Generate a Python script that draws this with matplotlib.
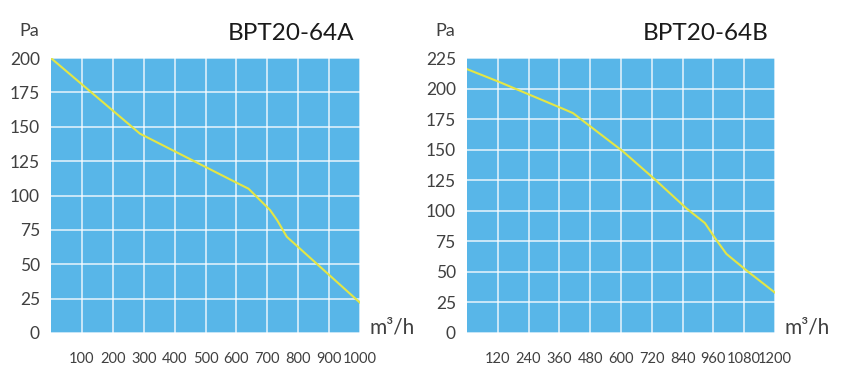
import matplotlib
matplotlib.use("Agg")
import matplotlib.pyplot as plt

plt.rcParams['font.family'] = ['Lato', 'DejaVu Sans']

# BPT20-64A curve
a_flow = [0, 288, 606, 639, 709, 732, 763, 1000]
a_pres = [200, 145, 108.7, 105, 89.4, 82, 70, 22]
a_xticks = [100, 200, 300, 400, 500, 600, 700, 800, 900, 1000]
a_yticks = [0, 25, 50, 75, 100, 125, 150, 175, 200]

# BPT20-64B curve
b_flow = [0, 120, 380, 413, 608, 728, 855, 927, 972, 1011, 1089, 1200]
b_pres = [216, 206, 183, 180, 148.6, 126.5, 102, 90, 76, 64.7, 51.2, 33]
b_xticks = [120, 240, 360, 480, 600, 720, 840, 960, 1080, 1200]
b_yticks = [0, 25, 50, 75, 100, 125, 150, 175, 200, 225]

bg = '#58b6e8'
line_col = '#e4e645'
txt = '#404040'

fig = plt.figure(figsize=(8.42, 3.76), dpi=100)

def panel(rect, xs, ys, xticks, yticks, xmax, ymax, title):
    ax = fig.add_axes(rect)
    ax.set_facecolor(bg)
    ax.plot(xs, ys, color=line_col, lw=1.5, solid_joinstyle='round')
    ax.set_xlim(0, xmax)
    ax.set_ylim(0, ymax)
    ax.set_xticks(xticks)
    ax.set_yticks(yticks)
    ax.grid(True, color='white', lw=1.1, alpha=0.85)
    ax.set_axisbelow(True)
    for s in ax.spines.values():
        s.set_visible(False)
    ax.tick_params(axis='both', length=0, colors=txt)
    ax.tick_params(axis='y', labelsize=12.5, pad=8)
    ax.tick_params(axis='x', labelsize=10.5, pad=14)
    ax.text(-0.07, 1.1, 'Pa', transform=ax.transAxes, fontsize=13,
            color=txt, ha='center', va='center')
    ax.text(0.98, 1.09, title, transform=ax.transAxes, fontsize=17.5,
            color='#1a1a1a', ha='right', va='center')
    ax.text(1.03, 0.02, 'm³/h', transform=ax.transAxes, fontsize=15,
            color=txt, ha='left', va='center')
    return ax

panel([0.0606, 0.1144, 0.367, 0.731], a_flow, a_pres, a_xticks, a_yticks,
      1000, 200, 'BPT20-64A')
panel([0.5546, 0.1144, 0.3658, 0.731], b_flow, b_pres, b_xticks, b_yticks,
      1200, 225, 'BPT20-64B')

fig.savefig('out.png', dpi=100)
